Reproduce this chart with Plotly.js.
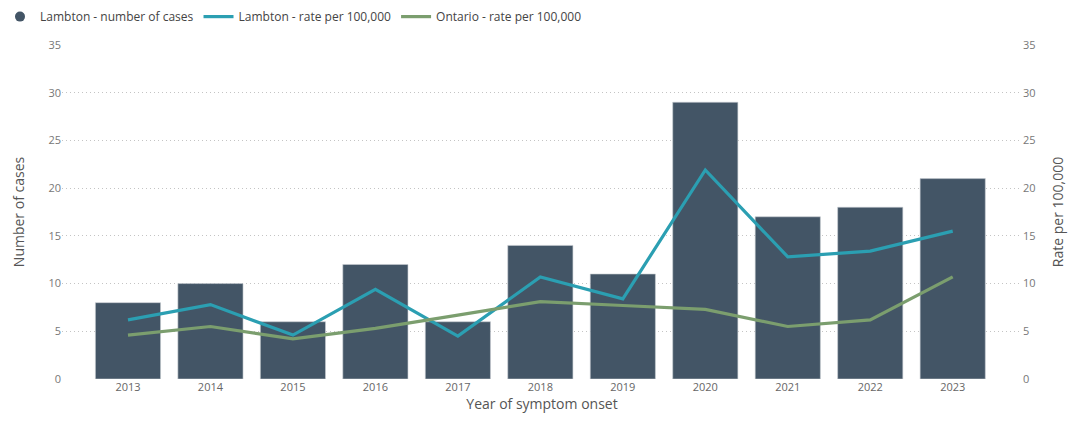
<!DOCTYPE html>
<html>
<head>
<meta charset="utf-8">
<script src="https://cdn.plot.ly/plotly-3.0.1.min.js"></script>
<style>html,body{margin:0;padding:0;background:#fff;}#chart{width:1069px;height:423px;}</style>
</head>
<body>
<div id="chart"></div>
<script>
const years = ['2013','2014','2015','2016','2017','2018','2019','2020','2021','2022','2023'];
const lambtonCases = [8, 10, 6, 12, 6, 14, 11, 29, 17, 18, 21];
const lambtonRate = [6.2, 7.8, 4.6, 9.4, 4.5, 10.7, 8.4, 21.9, 12.8, 13.4, 15.5];
const ontarioRate = [4.6, 5.5, 4.2, 5.3, 6.7, 8.1, 7.7, 7.3, 5.5, 6.2, 10.7];

const barColor = '#435566';
const lambtonColor = '#2B9FB2';
const ontarioColor = '#7B9E6E';

const data = [
  {type:'scatter', x:[null], y:[null], mode:'markers', name:'Lambton - number of cases',
   marker:{symbol:'circle', size:10, color:barColor}, showlegend:true, hoverinfo:'skip'},
  {type:'bar', x:years, y:lambtonCases, name:'Lambton - number of cases', showlegend:false,
   marker:{color:barColor, line:{color:'#c8cdd2', width:0.6}}},
  {type:'scatter', mode:'lines', x:years, y:lambtonRate, name:'Lambton - rate per 100,000', yaxis:'y2',
   line:{color:lambtonColor, width:3.2}},
  {type:'scatter', mode:'lines', x:years, y:ontarioRate, name:'Ontario - rate per 100,000', yaxis:'y2',
   line:{color:ontarioColor, width:3.2}}
];

const layout = {
  width:1069, height:423,
  margin:{l:62, r:47, t:45, b:44},
  paper_bgcolor:'#fff', plot_bgcolor:'#fff',
  font:{family:'"Open Sans", "Noto Sans", sans-serif', color:'#666', size:11},
  bargap:0.21,
  showlegend:true,
  legend:{orientation:'h', xref:'container', yref:'container', x:0, y:0.995, xanchor:'left', yanchor:'top',
    font:{size:12, color:'#444'}, itemwidth:30, tracegroupgap:0, traceorder:'normal'},
  xaxis:{type:'category', range:[-0.8, 10.84], showgrid:false, zeroline:false, showline:false, ticks:'',
    tickfont:{size:11, color:'#666'},
    title:{text:'Year of symptom onset', font:{size:14, color:'#555'}, standoff:6}},
  yaxis:{range:[0,35], dtick:5, showgrid:true, gridcolor:'#c4c4c4', griddash:'1px,3px', gridwidth:1,
    zeroline:false, showline:false, ticks:'', tickfont:{size:11, color:'#777'},
    title:{text:'Number of cases', font:{size:14, color:'#555'}, standoff:20}},
  yaxis2:{range:[0,35], dtick:5, overlaying:'y', side:'right', showgrid:false, zeroline:false,
    showline:false, ticks:'', tickfont:{size:11, color:'#777'},
    title:{text:'Rate per 100,000', font:{size:14, color:'#555'}, standoff:18}}
};

Plotly.newPlot('chart', data, layout, {displayModeBar:false, staticPlot:true});
</script>
</body>
</html>
